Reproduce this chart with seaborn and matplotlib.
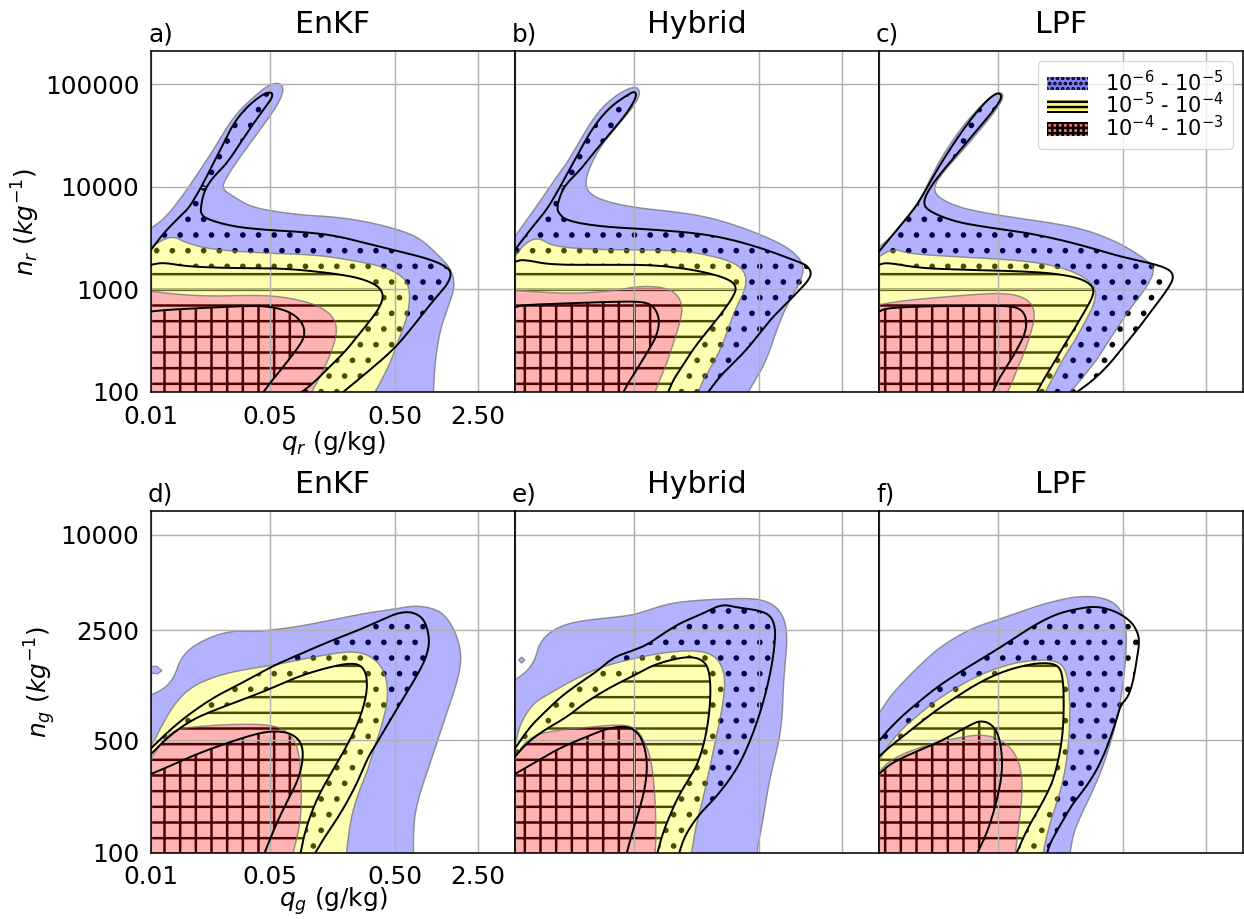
import numpy as np
import matplotlib
matplotlib.use("Agg")
import matplotlib.pyplot as plt
from matplotlib.path import Path
from matplotlib.patches import PathPatch, Patch
import seaborn as sns

# Axis positions are histogram-bin coordinates (0-100 across each axis);
# tick labels give the physical value at each bin position.
q_tick_pos = [0, 32.7, 67.0, 89.8]
q_tick_labels = ["0.01", "0.05", "0.50", "2.50"]
nr_tick_pos = [0, 30.1, 60.2, 90.3]
nr_tick_labels = ["100", "1000", "10000", "100000"]
ng_tick_pos = [0, 33.0, 65.2, 93.0]
ng_tick_labels = ["100", "500", "2500", "10000"]

methods = ["EnKF", "Hybrid", "LPF"]
panel_tags = [["a)", "b)", "c)"], ["d)", "e)", "f)"]]
level_labels = [r"$10^{-6}$ - $10^{-5}$", r"$10^{-5}$ - $10^{-4}$", r"$10^{-4}$ - $10^{-3}$"]

# Each boundary runs from the left axis edge to the bottom axis edge.
# "shade" = colour-filled frequency levels, "hatch" = hatched frequency levels.
# ---------------- rain (q_r, n_r) ----------------
rain_enkf_shade_6 = [(0, 48.0), (4.3, 51.4), (9.8, 59.2), (13.5, 65.1), (17.1, 70.9), (22.6, 80.7), (28.1, 86.5), (32.7, 90.4), (35.9, 90.6), (36.4, 88.0), (34.5, 83.6), (29.9, 76.8), (24.5, 69.0), (20.8, 63.1), (19.4, 59.7), (22.6, 57.3), (28.1, 53.9), (40.9, 51.9), (50.1, 51.4), (59.2, 50.0), (68.4, 47.5), (73.9, 45.1), (79.4, 39.7), (82.6, 35.8), (83.5, 30.9), (81.7, 25.1), (79.4, 18.2), (78.0, 8.5), (77.6, 0)]
rain_enkf_shade_5 = [(0, 42.6), (5.7, 46.0), (9.8, 43.6), (17.1, 41.7), (31.8, 40.7), (45.5, 40.2), (54.7, 38.7), (63.8, 36.8), (69.3, 33.9), (71.2, 30.0), (70.7, 23.1), (68.4, 16.3), (65.7, 8.5), (62.9, 2.6), (61.5, 0)]
rain_enkf_shade_4 = [(0, 29.5), (13.5, 28.0), (31.8, 28.5), (40.9, 27.0), (46.4, 25.1), (50.1, 22.1), (51.2, 18.2), (50.1, 13.4), (48.3, 8.5), (46.0, 3.6), (44.1, 0)]
rain_enkf_hatch_6 = [(0, 41.7), (3.4, 46.5), (7.0, 50.5), (10.3, 53.8), (12.5, 57.7), (14.3, 61.1), (16.2, 65.1), (19.0, 70.9), (22.6, 78.7), (26.3, 83.6), (30.9, 87.5), (33.2, 88.0), (33.4, 86.5), (31.8, 84.1), (28.1, 78.7), (24.5, 72.9), (20.8, 67.0), (17.6, 63.6), (15.4, 60.5), (14.3, 57.6), (13.8, 54.9), (13.6, 52.3), (15.5, 50.6), (22.6, 48.5), (31.8, 47.5), (40.9, 47.0), (50.1, 46.0), (59.2, 43.6), (68.4, 41.2), (75.7, 39.2), (80.3, 37.3), (82.6, 35.3), (81.7, 31.9), (78.5, 28.0), (74.8, 23.1), (71.2, 18.2), (66.6, 12.4), (59.2, 5.6), (52.8, 0)]
rain_enkf_hatch_5 = [(0, 37.3), (3.4, 38.0), (9.8, 36.8), (22.6, 36.3), (36.4, 36.3), (50.1, 34.8), (57.4, 33.4), (62.0, 31.4), (63.8, 29.0), (63.4, 26.0), (61.1, 22.1), (57.4, 17.3), (53.8, 12.4), (49.2, 7.5), (44.6, 2.6), (41.4, 0)]
rain_enkf_hatch_4 = [(0, 23.6), (4.3, 24.1), (22.6, 25.1), (31.8, 25.3), (38.2, 23.6), (41.8, 20.2), (42.3, 16.3), (40.0, 12.4), (36.4, 7.5), (32.7, 2.6), (30.9, 0)]

rain_hybrid_shade_6 = [(0, 45.6), (3.2, 50.4), (7.8, 57.3), (11.4, 63.1), (14.2, 67.0), (17.9, 73.9), (22.4, 81.7), (27.0, 86.5), (31.6, 89.3), (33.9, 89.3), (34.3, 87.0), (32.5, 83.6), (27.9, 77.8), (23.4, 71.9), (20.1, 65.1), (19.2, 60.2), (21.5, 57.3), (27.0, 55.3), (34.3, 53.9), (43.5, 52.9), (52.7, 51.4), (61.8, 48.5), (71.0, 44.6), (76.5, 41.2), (79.4, 37.3), (78.7, 32.9), (76.0, 28.0), (73.7, 23.1), (71.9, 18.2), (70.1, 12.4), (68.2, 7.5), (65.5, 2.6), (64.1, 0)]
rain_hybrid_shade_5 = [(0, 39.7), (2.7, 43.6), (6.4, 45.4), (10.5, 42.6), (23.4, 41.7), (37.1, 41.7), (47.2, 41.2), (52.7, 40.2), (58.2, 38.7), (61.8, 36.8), (63.6, 33.9), (63.2, 30.0), (60.9, 25.1), (59.1, 20.2), (57.2, 14.3), (54.5, 8.5), (51.7, 3.6), (50.4, 0)]
rain_hybrid_shade_4 = [(0, 29.8), (14.2, 28.8), (26.1, 29.5), (34.3, 31.1), (40.8, 30.7), (44.4, 29.0), (46.1, 25.1), (45.3, 20.2), (43.5, 14.3), (41.7, 8.5), (39.8, 3.6), (38.5, 0)]
rain_hybrid_hatch_6 = [(0, 41.7), (4.1, 47.5), (8.7, 53.4), (11.9, 59.2), (16.9, 69.0), (21.5, 77.8), (26.1, 83.6), (30.7, 87.0), (33.0, 88.3), (33.4, 86.5), (30.7, 81.7), (26.1, 75.8), (21.5, 70.0), (17.9, 65.1), (14.2, 61.2), (12.6, 58.2), (11.6, 54.5), (11.8, 52.6), (14.2, 50.2), (23.4, 48.5), (37.1, 47.7), (50.8, 46.5), (60.0, 44.6), (69.1, 41.7), (76.5, 38.7), (80.1, 37.3), (81.5, 35.0), (80.6, 32.7), (77.8, 29.5), (74.6, 26.0), (70.9, 22.1), (67.3, 17.3), (63.6, 12.4), (60.0, 8.5), (56.3, 4.6), (53.1, 0)]
rain_hybrid_hatch_5 = [(0, 38.2), (2.3, 38.9), (9.6, 37.3), (23.4, 37.3), (37.1, 37.3), (46.2, 36.3), (53.6, 34.8), (59.1, 32.9), (60.9, 30.7), (60.0, 28.0), (56.8, 23.1), (53.1, 18.2), (49.5, 13.4), (46.2, 8.0), (43.5, 3.6), (42.1, 0)]
rain_hybrid_hatch_4 = [(0, 24.9), (2.3, 25.5), (14.2, 26.0), (27.9, 26.5), (35.3, 26.5), (38.2, 25.1), (39.8, 21.2), (38.9, 16.3), (36.2, 11.4), (33.4, 6.5), (31.1, 2.6), (29.8, 0)]

rain_lpf_shade_6 = [(0, 42.5), (3.0, 45.1), (7.6, 50.9), (11.3, 55.8), (13.0, 60.2), (16.2, 67.0), (20.8, 74.8), (25.5, 81.2), (30.2, 86.2), (33.3, 88.2), (34.4, 86.5), (31.5, 81.7), (26.9, 75.8), (22.3, 70.0), (17.7, 64.6), (15.0, 60.2), (15.9, 57.3), (21.4, 54.3), (29.6, 52.4), (38.8, 50.9), (48.0, 49.5), (57.2, 47.5), (66.3, 43.6), (72.8, 39.2), (76.0, 36.3), (73.7, 30.9), (70.0, 26.0), (66.3, 20.2), (62.7, 14.3), (59.9, 9.5), (56.2, 4.6), (52.6, 0)]
rain_lpf_shade_5 = [(0, 39.7), (3.9, 42.1), (8.5, 40.5), (20.5, 39.7), (34.2, 38.9), (43.4, 38.0), (50.7, 36.3), (56.2, 33.9), (59.7, 30.4), (59.2, 26.0), (56.7, 20.7), (53.9, 15.3), (50.7, 10.0), (48.0, 4.6), (45.7, 0)]
rain_lpf_shade_4 = [(0, 25.6), (6.7, 26.8), (15.9, 27.7), (25.0, 28.5), (32.4, 29.0), (37.9, 28.5), (41.6, 26.5), (42.9, 23.1), (42.0, 18.2), (40.2, 12.4), (37.9, 6.5), (36.1, 1.7), (35.3, 0)]
rain_lpf_hatch_6 = [(0, 41.2), (4.9, 47.5), (9.4, 53.4), (11.1, 56.1), (13.6, 60.7), (15.9, 65.1), (20.5, 72.9), (25.0, 79.7), (29.6, 85.6), (32.8, 88.0), (33.9, 86.5), (31.5, 82.6), (26.9, 76.8), (22.3, 70.9), (17.7, 65.1), (14.5, 60.7), (12.2, 56.3), (12.9, 53.4), (20.5, 50.0), (29.6, 48.3), (38.8, 47.0), (48.0, 45.1), (57.2, 42.6), (66.3, 39.7), (75.5, 37.6), (80.1, 35.8), (81.0, 33.4), (79.2, 30.0), (76.4, 26.0), (73.7, 22.1), (70.9, 18.2), (67.2, 13.4), (63.6, 8.5), (59.0, 3.6), (54.4, 0)]
rain_lpf_hatch_5 = [(0, 37.3), (2.1, 38.0), (11.3, 36.3), (25.0, 35.8), (38.8, 35.4), (48.0, 34.8), (55.3, 33.4), (59.0, 30.9), (58.8, 28.0), (56.2, 23.1), (53.5, 18.2), (50.7, 13.4), (48.0, 8.5), (45.2, 3.6), (43.4, 0)]
rain_lpf_hatch_4 = [(0, 23.6), (2.1, 24.6), (11.3, 25.1), (25.0, 25.3), (36.1, 25.3), (39.3, 24.1), (40.6, 21.2), (40.2, 17.3), (37.9, 12.4), (35.1, 7.5), (32.8, 3.6), (31.3, 0)]

# ---------------- graupel (q_g, n_g) ----------------
graupel_enkf_shade_6 = [(0, 46.2), (3.8, 48.1), (6.5, 51.6), (7.9, 56.4), (11.1, 60.3), (17.5, 63.7), (23.0, 65.0), (28.5, 64.7), (33.1, 65.2), (40.4, 66.2), (49.5, 68.1), (58.7, 70.1), (67.9, 71.5), (72.0, 72.3), (76.6, 71.8), (80.3, 70.1), (83.5, 65.2), (85.3, 58.4), (84.7, 52.5), (83.1, 46.7), (81.2, 40.8), (79.4, 35.0), (77.6, 29.1), (75.7, 23.3), (73.9, 17.4), (72.5, 11.6), (72.1, 5.8), (72.1, 0)]
graupel_enkf_shade_5 = [(0, 31.1), (2.8, 36.9), (6.5, 43.8), (11.1, 48.6), (17.5, 51.6), (24.8, 53.5), (34.0, 55.0), (40.4, 56.4), (47.7, 57.9), (54.1, 58.9), (58.7, 58.4), (62.4, 55.9), (64.7, 51.6), (65.1, 44.7), (63.3, 36.9), (61.4, 31.1), (59.6, 24.3), (56.9, 17.4), (55.0, 10.6), (54.1, 3.8), (53.7, 0)]
graupel_enkf_shade_4 = [(0, 27.5), (3.4, 33.0), (6.0, 35.5), (8.3, 36.5), (17.5, 37.4), (26.6, 37.7), (33.1, 37.4), (36.7, 36.0), (39.5, 33.0), (40.8, 28.2), (41.3, 20.4), (41.3, 13.5), (40.8, 7.7), (39.5, 1.9), (39.0, 0)]
graupel_enkf_hatch_6 = [(0, 30.6), (4.7, 35.5), (10.2, 40.4), (17.5, 45.7), (24.8, 49.6), (33.1, 54.5), (40.4, 57.9), (47.7, 61.3), (56.0, 64.7), (63.3, 68.1), (67.9, 70.3), (72.1, 70.5), (75.3, 68.1), (76.6, 62.3), (75.7, 57.4), (73.4, 52.5), (70.7, 47.7), (67.9, 42.8), (65.2, 37.9), (62.5, 33.0), (59.7, 28.2), (57.4, 22.3), (54.7, 16.5), (51.5, 10.6), (47.8, 4.8), (45.1, 0)]
graupel_enkf_hatch_5 = [(0, 28.9), (4.7, 34.0), (11.1, 38.9), (17.5, 41.8), (24.8, 44.7), (32.1, 47.7), (40.4, 51.6), (47.7, 54.0), (54.1, 55.5), (57.8, 55.0), (59.4, 51.6), (59.2, 45.7), (56.9, 37.9), (53.7, 31.1), (50.0, 24.3), (46.3, 17.4), (44.0, 11.6), (42.2, 5.8), (41.1, 0)]
graupel_enkf_hatch_4 = [(0, 23.1), (4.7, 25.2), (12.9, 29.1), (22.1, 32.6), (29.4, 35.0), (34.0, 35.7), (38.6, 35.0), (41.5, 32.1), (41.8, 27.2), (40.4, 21.3), (37.6, 15.5), (34.9, 9.6), (32.6, 3.8), (31.2, 0)]

graupel_hybrid_shade_6 = [(0, 50.6), (3.2, 53.0), (5.5, 56.4), (6.7, 61.3), (9.6, 64.7), (14.2, 67.0), (19.7, 68.1), (26.1, 68.8), (32.5, 69.6), (37.1, 71.2), (42.6, 73.0), (49.0, 73.8), (55.4, 74.2), (63.6, 74.5), (68.2, 74.0), (71.9, 72.0), (74.2, 68.1), (74.8, 62.3), (74.2, 55.5), (73.7, 48.6), (73.5, 40.8), (72.6, 33.0), (71.0, 26.2), (69.6, 19.4), (68.7, 13.5), (67.8, 7.7), (66.8, 2.8), (66.6, 0)]
graupel_hybrid_shade_5 = [(0, 31.1), (1.4, 37.9), (5.0, 43.8), (9.6, 46.7), (16.0, 50.6), (23.4, 54.3), (30.7, 56.4), (37.1, 57.9), (43.5, 58.9), (49.0, 59.2), (53.6, 58.4), (56.3, 55.9), (57.7, 51.6), (57.4, 45.7), (56.3, 38.9), (54.9, 32.1), (53.6, 25.2), (52.2, 18.4), (50.8, 12.6), (49.5, 6.7), (48.5, 0)]
graupel_hybrid_shade_4 = [(0, 27.7), (2.3, 31.9), (6.0, 34.8), (12.4, 36.0), (19.7, 36.7), (26.1, 37.4), (30.7, 37.4), (33.4, 36.2), (35.4, 33.0), (36.9, 29.1), (37.8, 24.3), (38.4, 17.4), (38.7, 9.6), (38.7, 3.8), (38.5, 0)]
graupel_hybrid_hatch_6 = [(0, 30.6), (4.1, 36.9), (7.8, 40.8), (12.4, 45.5), (16.9, 49.1), (22.4, 53.0), (27.0, 57.2), (31.6, 58.9), (36.2, 60.8), (40.8, 64.2), (45.3, 67.2), (50.8, 69.6), (56.8, 72.8), (60.9, 71.8), (66.4, 71.1), (70.1, 69.6), (71.5, 66.2), (71.4, 61.3), (70.5, 54.5), (69.1, 47.7), (67.3, 40.8), (64.7, 33.0), (61.8, 26.2), (58.6, 20.9), (54.9, 16.0), (51.3, 12.1), (48.5, 8.2), (46.4, 4.3), (45.1, 0)]
graupel_hybrid_hatch_5 = [(0, 28.2), (3.2, 32.1), (7.8, 35.8), (14.2, 39.7), (18.8, 43.6), (23.4, 46.7), (27.9, 49.4), (32.5, 51.8), (37.1, 54.5), (41.7, 56.2), (47.2, 57.4), (50.8, 56.9), (53.1, 54.5), (53.8, 48.6), (53.4, 40.8), (52.2, 33.0), (50.1, 25.7), (47.3, 20.9), (44.6, 16.0), (42.4, 10.6), (40.6, 5.8), (39.1, 0)]
graupel_hybrid_hatch_4 = [(0, 23.1), (5.0, 26.2), (9.6, 29.1), (14.2, 31.6), (19.7, 34.0), (24.3, 36.0), (27.9, 36.9), (31.1, 36.9), (33.6, 35.4), (35.4, 32.1), (36.4, 26.2), (35.8, 19.4), (34.3, 13.1), (32.7, 7.7), (31.4, 2.8), (30.7, 0)]

graupel_lpf_shade_6 = [(0, 40.8), (3.0, 45.7), (6.7, 50.1), (11.3, 55.0), (15.8, 59.4), (21.3, 63.3), (26.8, 66.2), (32.3, 68.1), (37.8, 70.1), (43.3, 72.2), (48.8, 73.8), (54.3, 75.0), (59.8, 75.0), (64.4, 73.5), (67.1, 70.1), (68.0, 65.2), (67.9, 58.4), (67.3, 51.6), (66.4, 44.7), (65.1, 37.9), (63.3, 31.1), (61.2, 24.3), (58.4, 17.4), (55.7, 11.6), (53.4, 5.8), (52.5, 0)]
graupel_lpf_shade_5 = [(0, 27.2), (3.0, 32.1), (6.7, 36.7), (11.3, 40.8), (15.8, 44.7), (21.3, 48.4), (26.8, 51.6), (32.3, 54.0), (37.8, 55.7), (43.3, 56.4), (47.4, 56.4), (50.6, 55.0), (52.0, 50.6), (52.5, 42.8), (52.3, 35.0), (51.6, 27.2), (50.2, 19.4), (48.4, 13.5), (46.7, 7.7), (45.6, 2.8), (45.1, 0)]
graupel_lpf_shade_4 = [(0, 23.8), (3.0, 27.0), (8.5, 29.9), (15.8, 32.3), (23.2, 34.0), (27.7, 34.6), (32.3, 33.8), (36.0, 31.1), (38.3, 27.2), (39.3, 22.3), (39.3, 16.5), (38.7, 10.6), (38.0, 4.8), (37.5, 0)]
graupel_lpf_hatch_6 = [(0, 32.8), (3.0, 36.5), (6.7, 40.4), (11.3, 44.5), (15.8, 48.4), (21.3, 52.3), (26.8, 55.9), (32.3, 59.4), (37.8, 63.3), (43.3, 67.0), (48.8, 69.9), (54.3, 71.4), (59.8, 72.2), (65.3, 70.6), (69.4, 67.6), (71.2, 64.2), (71.5, 61.3), (70.8, 56.4), (69.9, 50.6), (68.5, 45.7), (66.4, 43.3), (65.5, 39.9), (63.7, 34.0), (61.6, 28.2), (59.3, 23.3), (56.6, 18.9), (53.6, 15.0), (51.1, 10.6), (49.0, 6.7), (47.0, 2.8), (46.2, 0)]
graupel_lpf_hatch_5 = [(0, 28.2), (3.0, 31.1), (6.7, 34.2), (11.3, 38.1), (15.8, 41.8), (21.3, 45.7), (26.8, 49.4), (32.3, 52.3), (37.8, 54.3), (43.3, 55.5), (47.4, 55.5), (49.7, 54.3), (50.6, 50.6), (50.8, 42.8), (50.5, 35.0), (49.5, 28.2), (47.9, 21.3), (45.3, 15.5), (42.6, 10.6), (40.2, 5.8), (38.6, 1.9), (37.8, 0)]
graupel_lpf_hatch_4 = [(0, 23.1), (3.0, 26.0), (8.5, 28.9), (15.8, 32.1), (21.3, 35.2), (25.0, 37.4), (27.7, 38.7), (30.7, 37.9), (32.8, 34.8), (33.8, 29.1), (33.8, 23.3), (32.8, 17.4), (31.4, 11.6), (29.6, 5.8), (27.9, 1.9), (27.0, 0)]

# small detached patches of the lowest shaded level
graupel_enkf_islet = [(0, 52.6), (1.8, 52.4), (3.0, 53.3), (1.5, 54.6), (0, 54.5)]
graupel_hybrid_islet = [(1.0, 56.4), (1.8, 57.3), (2.7, 56.4), (1.8, 55.5)]

shaded = [
    {"EnKF": [rain_enkf_shade_6, rain_enkf_shade_5, rain_enkf_shade_4],
     "Hybrid": [rain_hybrid_shade_6, rain_hybrid_shade_5, rain_hybrid_shade_4],
     "LPF": [rain_lpf_shade_6, rain_lpf_shade_5, rain_lpf_shade_4]},
    {"EnKF": [graupel_enkf_shade_6, graupel_enkf_shade_5, graupel_enkf_shade_4],
     "Hybrid": [graupel_hybrid_shade_6, graupel_hybrid_shade_5, graupel_hybrid_shade_4],
     "LPF": [graupel_lpf_shade_6, graupel_lpf_shade_5, graupel_lpf_shade_4]},
]
hatched = [
    {"EnKF": [rain_enkf_hatch_6, rain_enkf_hatch_5, rain_enkf_hatch_4],
     "Hybrid": [rain_hybrid_hatch_6, rain_hybrid_hatch_5, rain_hybrid_hatch_4],
     "LPF": [rain_lpf_hatch_6, rain_lpf_hatch_5, rain_lpf_hatch_4]},
    {"EnKF": [graupel_enkf_hatch_6, graupel_enkf_hatch_5, graupel_enkf_hatch_4],
     "Hybrid": [graupel_hybrid_hatch_6, graupel_hybrid_hatch_5, graupel_hybrid_hatch_4],
     "LPF": [graupel_lpf_hatch_6, graupel_lpf_hatch_5, graupel_lpf_hatch_4]},
]
islets = {(1, "EnKF"): graupel_enkf_islet, (1, "Hybrid"): graupel_hybrid_islet}

row_ticks = [(nr_tick_pos, nr_tick_labels), (ng_tick_pos, ng_tick_labels)]
row_xlabels = [r"$q_r$ (g/kg)", r"$q_g$ (g/kg)"]
row_ylabels = [r"$n_r\ (kg^{-1})$", r"$n_g\ (kg^{-1})$"]
row_xpad = [(4, 0), (3, -2.5)]

sns.set_theme(style="white")
plt.rcParams["font.family"] = ["DejaVu Sans"]
plt.rcParams["mathtext.fontset"] = "dejavusans"
plt.rcParams["hatch.linewidth"] = 1.9
for key in ["text.color", "axes.labelcolor", "xtick.color", "ytick.color", "axes.edgecolor"]:
    plt.rcParams[key] = "black"

fill_colors = [(0.0, 0.0, 1.0, 0.3), (1.0, 1.0, 0.0, 0.3), (1.0, 0.0, 0.0, 0.3)]
hatch_styles = [".", "-", "+"]


def chaikin(points, rounds=3):
    """Corner-cutting smoothing of an open polyline, keeping both ends."""
    p = np.asarray(points, dtype=float)
    for _ in range(rounds):
        a = 0.75 * p[:-1] + 0.25 * p[1:]
        b = 0.25 * p[:-1] + 0.75 * p[1:]
        mid = np.empty((2 * len(a), 2))
        mid[0::2] = a
        mid[1::2] = b
        p = np.vstack([p[:1], mid, p[-1:]])
    return p


def ring(curve):
    return np.vstack([curve, [[0.0, 0.0]], curve[:1]])


def region_path(curve, hole=None):
    """Area between the boundary curve and the lower-left corner, minus an optional hole."""
    rings = [ring(curve)]
    if hole is not None:
        rings.append(ring(hole)[::-1])
    verts, codes = [], []
    for r in rings:
        verts.append(r)
        codes.append(np.r_[Path.MOVETO, np.full(len(r) - 2, Path.LINETO), Path.CLOSEPOLY])
    return Path(np.vstack(verts), np.concatenate(codes))


W, H, DPI = 1244, 919, 94
fig = plt.figure(figsize=(W / DPI, H / DPI), dpi=DPI)
fig.patch.set_facecolor("white")
col_left = [151 / W, 515 / W, 879 / W]
ax_w = 364 / W
row_box = [(1 - 392 / H, 341 / H), (1 - 853 / H, 342 / H)]

for r in range(2):
    for c, method in enumerate(methods):
        ax = fig.add_axes([col_left[c], row_box[r][0], ax_w, row_box[r][1]])
        ax.set_facecolor("white")
        ax.set_xlim(0, 100)
        ax.set_ylim(0, 100)

        shade = [chaikin(s) for s in shaded[r][method]]
        hatch = [chaikin(s) for s in hatched[r][method]]

        # hatched levels (nested, innermost on top)
        for k, curve in enumerate(hatch):
            ax.add_patch(PathPatch(region_path(curve), facecolor="white", edgecolor="black",
                                   lw=0, hatch=hatch_styles[k], zorder=1.0 + 0.1 * k))

        # translucent colour bands
        for k, curve in enumerate(shade):
            hole = shade[k + 1] if k < 2 else None
            ax.add_patch(PathPatch(region_path(curve, hole), facecolor=fill_colors[k],
                                   edgecolor="none", lw=0, zorder=1.5))
            ax.plot(curve[:, 0], curve[:, 1], color="0.45", lw=1.1, alpha=0.75, zorder=1.6)

        if (r, method) in islets:
            blob = np.asarray(islets[(r, method)])
            ax.fill(blob[:, 0], blob[:, 1], facecolor=fill_colors[0], edgecolor=(0.45, 0.45, 0.45, 0.75),
                    lw=1.0, zorder=1.5)

        for curve in hatch:
            ax.plot(curve[:, 0], curve[:, 1], color="black", lw=1.5, zorder=3)

        yt, ytl = row_ticks[r]
        ax.set_xticks(q_tick_pos)
        ax.set_yticks(yt)
        if c == 0:
            ax.set_xticklabels(q_tick_labels)
            ax.set_yticklabels(ytl)
            ax.set_xlabel(row_xlabels[r], fontsize=19, labelpad=row_xpad[r][1])
            ax.set_ylabel(row_ylabels[r], fontsize=19, labelpad=2)
        else:
            ax.set_xticklabels([])
            ax.set_yticklabels([])

        ax.grid(True, color="#b0b0b0", lw=1.1)
        ax.set_axisbelow(False)
        ax.tick_params(direction="out", length=6, width=1.1, color="black",
                       labelsize=19, labelcolor="black")
        ax.tick_params(axis="x", pad=row_xpad[r][0])
        ax.tick_params(axis="y", pad=3)
        for sp in ax.spines.values():
            sp.set_visible(True)
            sp.set_color("black")
            sp.set_linewidth(1.2)
            sp.set_zorder(4)

        ax.set_title(method, fontsize=23, pad=13.5, color="black")
        ax.text(-0.008, 1.012, panel_tags[r][c], transform=ax.transAxes,
                fontsize=19, ha="left", va="bottom", color="black")

        if r == 0 and c == 2:
            handles = [Patch(facecolor=(0.0, 0.0, 1.0, 0.5), edgecolor="black", lw=0, hatch="..."),
                       Patch(facecolor=(1.0, 1.0, 0.0, 0.55), edgecolor="black", lw=0, hatch="---"),
                       Patch(facecolor=(1.0, 0.0, 0.0, 0.55), edgecolor="black", lw=0, hatch="+++")]
            leg = ax.legend(handles, level_labels, loc="upper right", fontsize=16,
                            labelspacing=-0.12, handlelength=2.0, handleheight=0.6,
                            borderpad=0.4, framealpha=0.8, edgecolor="0.8", fancybox=True)
            leg.set_zorder(6)

fig.savefig("out.png", dpi=DPI, facecolor="white")
